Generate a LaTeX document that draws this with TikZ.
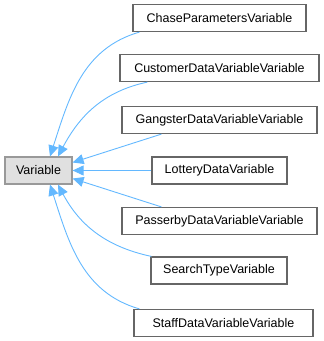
\documentclass[tikz,border=0pt]{standalone}
\usepackage{fontspec}
\setmainfont{Liberation Sans}
\usetikzlibrary{arrows.meta}
\definecolor{edgeblue}{HTML}{63B8FF}
\definecolor{boxgray}{HTML}{666666}
\definecolor{basegray}{HTML}{999999}
\definecolor{basefill}{HTML}{E0E0E0}
\tikzset{
  cls/.style={draw=boxgray, line width=1.2pt, fill=white, minimum height=27pt, inner sep=0pt, font=\fontsize{12.5}{14}\selectfont},
  base/.style={cls, draw=basegray, fill=basefill},
  inh/.style={edgeblue, line width=0.9pt, -{Triangle[length=11pt,width=10pt]}},
}
\newcommand{\subclass}[4]{\node[cls, minimum width=#3] (#1) at (#2) {#4};}

\begin{document}
\begin{tikzpicture}[x=1pt,y=-1pt]
        \useasboundingbox (0,0) rectangle (324,341);
        % base class
        \node[base, minimum width=67pt] (var) at (38.5,170.5) {Variable};
        % derived classes
        \subclass{chase}{219.5,18}{173pt}{ChaseParametersVariable}
        \subclass{cust}{219.5,68}{199pt}{CustomerDataVariableVariable}
        \subclass{gang}{219.5,120}{195pt}{GangsterDataVariableVariable}
        \subclass{lott}{219.5,170.5}{135pt}{LotteryDataVariable}
        \subclass{pass}{219.5,221}{195pt}{PasserbyDataVariableVariable}
        \subclass{search}{219,270.5}{136pt}{SearchTypeVariable}
        \subclass{staff}{223.5,323}{179pt}{StaffDataVariableVariable}
        % inheritance edges
        \draw[inh] ([xshift=7pt]chase.south west) to[out=196,in=72] ([xshift=11.5pt]var.north);
        \draw[inh] ([xshift=28pt]cust.south west) to[out=192,in=62] ([xshift=19.5pt]var.north);
        \draw[inh] ([xshift=40pt]gang.south west) -- ([yshift=8pt]var.east);
        \draw[inh] (lott.west) -- (var.east);
        \draw[inh] ([xshift=40pt]pass.north west) -- ([yshift=-8pt]var.east);
        \draw[inh] ([xshift=1pt]search.north west) to[out=168,in=-62] ([xshift=19.5pt]var.south);
        \draw[inh] ([xshift=6pt]staff.north west) to[out=164,in=-72] ([xshift=11.5pt]var.south);
    \end{tikzpicture}
\end{document}
